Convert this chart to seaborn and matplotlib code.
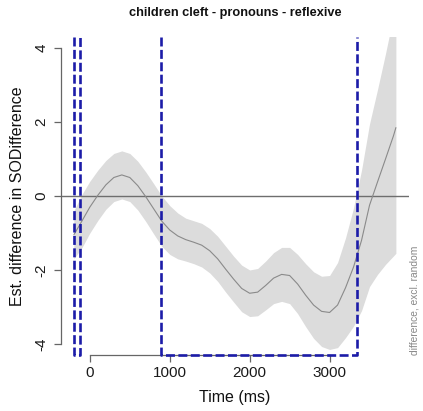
import numpy as np
import pandas as pd
import matplotlib
matplotlib.use("Agg")
import matplotlib.pyplot as plt
import seaborn as sns

# ---- data ----
time_ms = [-200, -100, 0, 100, 200, 300, 400, 500, 600, 700, 800, 900, 1000,
           1100, 1200, 1300, 1400, 1500, 1600, 1700, 1800, 1900, 2000, 2100,
           2200, 2300, 2400, 2500, 2600, 2700, 2800, 2900, 3000, 3100, 3200,
           3300, 3400, 3500, 3600, 3700, 3800, 3830]
est_diff = [-1.05, -0.68, -0.30, 0.02, 0.30, 0.50, 0.57, 0.50, 0.28, -0.02,
            -0.35, -0.68, -0.92, -1.08, -1.18, -1.25, -1.33, -1.48, -1.70,
            -1.98, -2.25, -2.50, -2.63, -2.60, -2.42, -2.22, -2.12, -2.15,
            -2.38, -2.68, -2.95, -3.12, -3.15, -2.95, -2.48, -1.92, -1.20,
            -0.25, 0.38, 1.00, 1.63, 1.85]
ci_half = [0.65, 0.72, 0.70, 0.68, 0.66, 0.65, 0.65, 0.65, 0.66, 0.67, 0.68,
           0.68, 0.66, 0.62, 0.58, 0.58, 0.59, 0.60, 0.61, 0.62, 0.62, 0.63,
           0.63, 0.64, 0.66, 0.69, 0.73, 0.76, 0.80, 0.85, 0.90, 0.95, 1.00,
           1.15, 1.35, 1.60, 1.90, 2.20, 2.50, 2.85, 3.25, 3.40]
sig_start = [-200, 896]
sig_end = [-125, 3346]

x_ticks = [0, 1000, 2000, 3000]
y_ticks = [-4, -2, 0, 2, 4]

title = "children cleft - pronouns - reflexive"
xlabel = "Time (ms)"
ylabel = "Est. difference in SODifference"
side_note = "difference, excl. random"

df = pd.DataFrame({"time": time_ms, "est": est_diff, "hw": ci_half})
df["lo"] = df["est"] - df["hw"]
df["hi"] = df["est"] + df["hw"]

sns.set_style("white")
plt.rcParams["font.family"] = ["Liberation Sans", "DejaVu Sans"]

fig = plt.figure(figsize=(4.23, 4.11), dpi=100)
ax = fig.add_axes([61 / 423, 1 - 355 / 411, 348 / 423, 318 / 411])

xmin, xmax = -361, 3994
ymin, ymax = -4.3, 4.3
ax.set_xlim(xmin, xmax)
ax.set_ylim(ymin, ymax)

ax.fill_between(df["time"], df["lo"], df["hi"], color="#dcdcdc", lw=0, zorder=1)
sns.lineplot(data=df, x="time", y="est", ax=ax, color="#8a8a8a", lw=0.8, zorder=3)
ax.axhline(0, color="#6e6e6e", lw=1.0, zorder=2)

for s, e in zip(sig_start, sig_end):
    ax.plot([s, s, e, e], [ymax, ymin, ymin, ymax], color="#1c1ca8", lw=1.9,
            dashes=(3.4, 1.3), zorder=4, clip_on=False,
            solid_capstyle="butt", dash_capstyle="butt")

for sp in ["top", "right"]:
    ax.spines[sp].set_visible(False)
for sp in ["left", "bottom"]:
    ax.spines[sp].set_color("#666666")
    ax.spines[sp].set_linewidth(0.9)
ax.spines["left"].set_bounds(-4, 4)
ax.spines["bottom"].set_bounds(0, 3000)

ax.set_xticks(x_ticks)
ax.set_yticks(y_ticks)
ax.set_yticklabels([str(v) for v in y_ticks], rotation=90, va="center")
ax.tick_params(axis="both", length=5, width=0.9, color="#666666",
               labelsize=11, labelcolor="#1a1a1a", pad=3, left=True, bottom=True)
ax.tick_params(axis="y", pad=4)

ax.set_xlabel(xlabel, fontsize=11.5, color="#111111", labelpad=7)
ax.set_ylabel(ylabel, fontsize=11.5, color="#111111", labelpad=7)
ax.set_title(title, fontsize=9.2, fontweight="bold", color="#111111", pad=15)
fig.text(414 / 423, 1 - 355 / 411, side_note, rotation=90, ha="center",
         va="bottom", fontsize=7.4, color="#888888")

ax.set_facecolor("white")
fig.savefig("out.png", dpi=100, facecolor="white")
